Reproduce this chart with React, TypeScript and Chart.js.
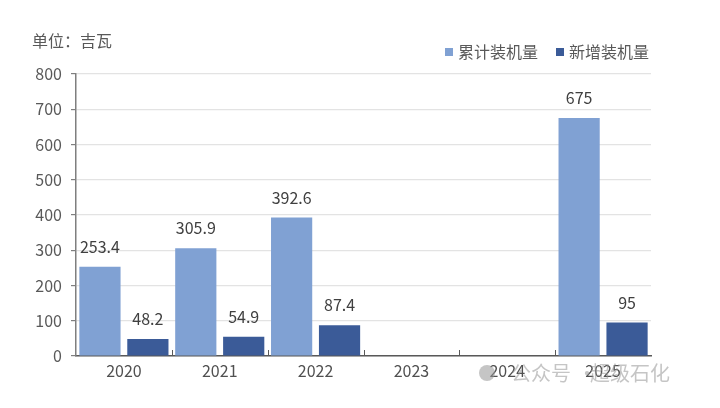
import React, { useEffect, useRef } from "react";
import { Chart, registerables } from "chart.js";

Chart.register(...registerables);

const categories = ["2020", "2021", "2022", "2023", "2024", "2025"];
const cumulative: (number | null)[] = [253.4, 305.9, 392.6, null, null, 675];
const added: (number | null)[] = [48.2, 54.9, 87.4, null, null, 95];
const yTicks = [0, 100, 200, 300, 400, 500, 600, 700, 800];
const seriesNames = ["累计装机量", "新增装机量"];
const unitLabel = "单位：吉瓦";
const watermarkParts = ["公众号", "·", "超级石化"];

const FONT = "'Noto Sans CJK SC', 'Noto Sans', sans-serif";
const LIGHT = "#80A1D3";
const DARK = "#3B5B98";

const overlayPlugin = {
  id: "overlay",
  afterDatasetsDraw(chart: any) {
    const ctx = chart.ctx;
    ctx.save();
    // data labels
    ctx.font = `16px ${FONT}`;
    ctx.fillStyle = "#404040";
    ctx.textAlign = "center";
    ctx.textBaseline = "middle";
    chart.data.datasets.forEach((ds: any, i: number) => {
      const meta = chart.getDatasetMeta(i);
      meta.data.forEach((bar: any, j: number) => {
        const v = ds.data[j];
        if (v === null || v === undefined) return;
        ctx.fillText(String(v), bar.x, bar.y - 20);
      });
    });
    // category boundary ticks on x axis
    const xs = chart.scales.x;
    const area = chart.chartArea;
    ctx.strokeStyle = "#595959";
    ctx.lineWidth = 1;
    for (let k = 1; k < categories.length; k++) {
      const x = Math.round((xs.getPixelForValue(k - 1) + xs.getPixelForValue(k)) / 2) + 0.5;
      ctx.beginPath();
      ctx.moveTo(x, area.bottom);
      ctx.lineTo(x, area.bottom - 6);
      ctx.stroke();
    }
    // unit label
    ctx.font = `16px ${FONT}`;
    ctx.fillStyle = "#595959";
    ctx.textAlign = "left";
    ctx.textBaseline = "middle";
    ctx.fillText(unitLabel, 32, 41);
    // legend
    const legendItems = [
      { x: 445, color: LIGHT, text: seriesNames[0] },
      { x: 556, color: DARK, text: seriesNames[1] },
    ];
    legendItems.forEach((it) => {
      ctx.fillStyle = it.color;
      ctx.fillRect(it.x, 48, 8, 8);
      ctx.fillStyle = "#595959";
      ctx.fillText(it.text, it.x + 13, 52);
    });
    // watermark
    ctx.font = `20px ${FONT}`;
    ctx.fillStyle = "rgba(150,150,150,0.55)";
    ctx.beginPath();
    ctx.arc(487, 373, 8, 0, Math.PI * 2);
    ctx.fill();
    ctx.fillText(watermarkParts[0], 511, 373);
    ctx.fillText(watermarkParts[1], 577, 373);
    ctx.fillText(watermarkParts[2], 590, 373);
    ctx.restore();
  },
};

export default function App() {
  const ref = useRef<HTMLCanvasElement>(null);
  useEffect(() => {
    if (!ref.current) return;
    const chart = new Chart(ref.current, {
      type: "bar",
      data: {
        labels: categories,
        datasets: [
          {
            label: seriesNames[0],
            data: cumulative,
            backgroundColor: LIGHT,
            categoryPercentage: 1.0,
            barPercentage: 0.86,
          },
          {
            label: seriesNames[1],
            data: added,
            backgroundColor: DARK,
            categoryPercentage: 1.0,
            barPercentage: 0.86,
          },
        ],
      },
      options: {
        animation: false,
        responsive: false,
        maintainAspectRatio: false,
        layout: { padding: { top: 74, right: 69, left: 0, bottom: 0 } },
        plugins: { legend: { display: false }, tooltip: { enabled: false } },
        scales: {
          x: {
            grid: { display: false, drawTicks: false },
            border: { display: true, color: "#595959", width: 1.5 },
            ticks: {
              color: "#505050",
              font: { family: FONT, size: 16 },
              padding: 5,
            },
            afterFit(scale: any) {
              scale.height = 52;
            },
          },
          y: {
            min: 0,
            max: 800,
            afterBuildTicks(scale: any) {
              scale.ticks = yTicks.map((v) => ({ value: v }));
            },
            grid: {
              color: "#E3E3E3",
              tickColor: "#7F7F7F",
              tickLength: 5,
              lineWidth: 1.2,
            },
            border: { display: true, color: "#7F7F7F", width: 1.5 },
            ticks: {
              color: "#595959",
              font: { family: FONT, size: 16 },
              padding: 9,
            },
            afterFit(scale: any) {
              scale.width = 76;
            },
          },
        },
      },
      plugins: [overlayPlugin],
    });
    return () => chart.destroy();
  }, []);
  return (
    <div style={{ position: "fixed", left: 0, top: 0, width: 720, height: 408, background: "#fff" }}>
      <canvas ref={ref} width={720} height={408} style={{ width: 720, height: 408 }} />
    </div>
  );
}
